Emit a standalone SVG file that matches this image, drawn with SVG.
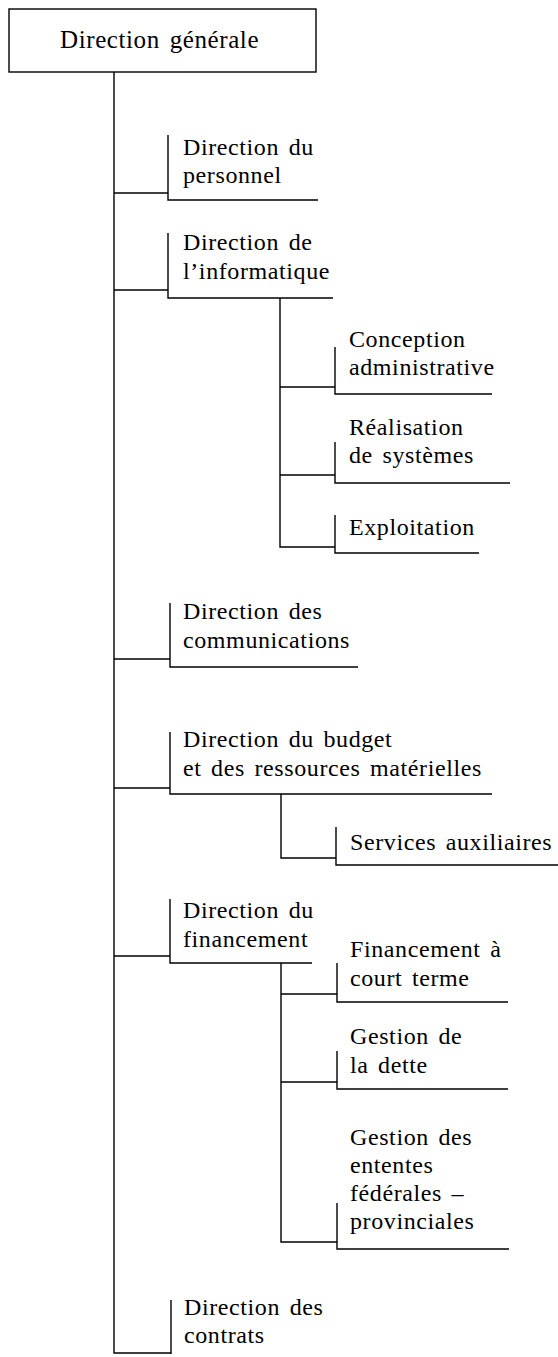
<svg xmlns="http://www.w3.org/2000/svg" width="558" height="1357" viewBox="0 0 558 1357">
<style>
.ln{fill:none;stroke:#000;stroke-width:1.4}
.t{font-family:"Liberation Serif","Times New Roman",serif;font-size:24px;letter-spacing:0.6px;word-spacing:3px;fill:#000}
.tr{font-size:25px}
</style>
<rect width="558" height="1357" fill="#fff"/>
<g id="connectors" class="ln">
<path d="M114,72 V1353 H171"/>
<path d="M114,193 H168"/>
<path d="M114,290 H168"/>
<path d="M114,659 H170"/>
<path d="M114,788 H170"/>
<path d="M114,956 H170"/>
<path d="M280,298 V547 H335"/>
<path d="M280,387 H335"/>
<path d="M280,475 H335"/>
<path d="M281,794 V858 H336"/>
<path d="M281,963 V1242 H337"/>
<path d="M281,994 H337"/>
<path d="M281,1082 H337"/>
</g>
<g id="root"><rect class="ln" x="9" y="9" width="307" height="63"/><text class="t tr" x="60" y="48">Direction générale</text></g>
<g id="n-personnel"><path class="ln" d="M168,135 V200 H318"/><text class="t" x="183" y="155">Direction du</text><text class="t" x="183" y="183">personnel</text></g>
<g id="n-informatique"><path class="ln" d="M168,233 V298 H333"/><text class="t" x="183" y="250">Direction de</text><text class="t" x="183" y="279">l’informatique</text></g>
<g id="n-conception"><path class="ln" d="M335,347 V394 H492"/><text class="t" x="349" y="347">Conception</text><text class="t" x="349" y="375">administrative</text></g>
<g id="n-realisation"><path class="ln" d="M335,442 V483 H510"/><text class="t" x="349" y="435">Réalisation</text><text class="t" x="349" y="463">de systèmes</text></g>
<g id="n-exploitation"><path class="ln" d="M335,515 V553 H479"/><text class="t" x="349" y="535">Exploitation</text></g>
<g id="n-communications"><path class="ln" d="M170,603 V667 H358"/><text class="t" x="183" y="619">Direction des</text><text class="t" x="183" y="648">communications</text></g>
<g id="n-budget"><path class="ln" d="M170,732 V794 H492"/><text class="t" x="183" y="747">Direction du budget</text><text class="t" x="183" y="776">et des ressources matérielles</text></g>
<g id="n-services"><path class="ln" d="M336,827 V865 H558"/><text class="t" x="350" y="850">Services auxiliaires</text></g>
<g id="n-financement"><path class="ln" d="M170,899 V963 H312"/><text class="t" x="183" y="918">Direction du</text><text class="t" x="183" y="947">financement</text></g>
<g id="n-court-terme"><path class="ln" d="M337,963 V1002 H508"/><text class="t" x="350" y="957">Financement à</text><text class="t" x="350" y="986">court terme</text></g>
<g id="n-dette"><path class="ln" d="M337,1051 V1089 H508"/><text class="t" x="350" y="1044">Gestion de</text><text class="t" x="350" y="1073">la dette</text></g>
<g id="n-ententes"><path class="ln" d="M337,1203 V1249 H509"/><text class="t" x="350" y="1145">Gestion des</text><text class="t" x="350" y="1173">ententes</text><text class="t" x="350" y="1201">fédérales –</text><text class="t" x="350" y="1229">provinciales</text></g>
<g id="n-contrats"><path class="ln" d="M171,1300 V1354"/><text class="t" x="184" y="1315">Direction des</text><text class="t" x="184" y="1343">contrats</text></g>
</svg>
